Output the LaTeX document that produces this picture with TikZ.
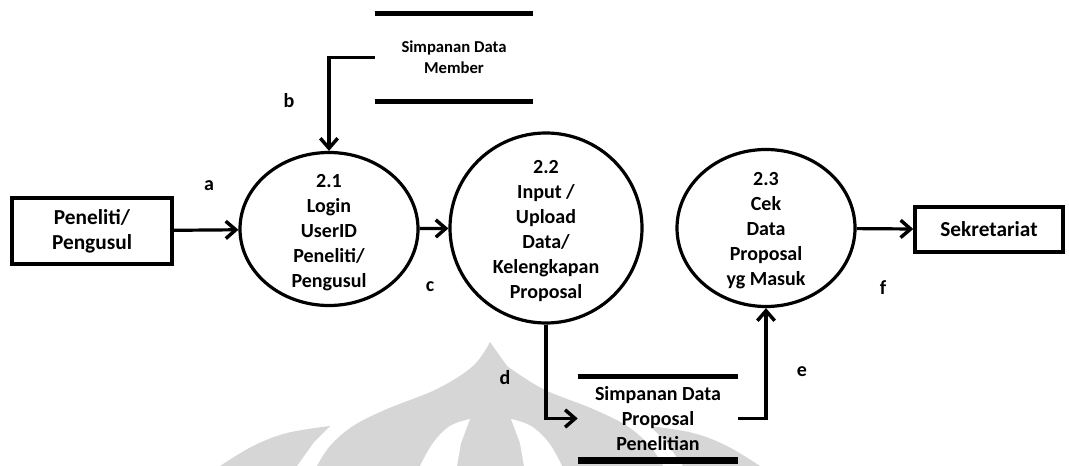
\documentclass[tikz,border=0pt]{standalone}
\usepackage{fontspec}
\setmainfont{Carlito}
\usetikzlibrary{arrows.meta,shapes.geometric}

\begin{document}
\begin{tikzpicture}[x=0.75pt,y=-0.75pt,
  txt/.style={font=\bfseries\fontsize{15}{18.75}\selectfont, align=center, inner sep=0pt},
  boxtxt/.style={font=\bfseries\fontsize{16}{18.75}\selectfont, align=center, inner sep=0pt},
  smalltxt/.style={font=\bfseries\fontsize{12.5}{16}\selectfont, align=center, inner sep=0pt},
  proc/.style={draw, ellipse, line width=2.4pt, inner sep=0pt},
  entity/.style={draw, rectangle, line width=2.6pt, boxtxt},
  store/.style={rectangle, inner sep=0pt},
  storeline/.style={line width=3.4pt},
  storebar/.style={line width=5pt},
  flow/.style={line width=2.4pt, -{Straight Barb[length=7.5pt,width=13pt,line width=2.6pt]}},
  flowlabel/.style={font=\bfseries\fontsize{15}{18}\selectfont, inner sep=0pt},
  emblem/.style={fill=black!16, draw=none}]

% canvas
\fill[white] (0,0) rectangle (1069,466);
\useasboundingbox (0,0) rectangle (1069,466);

% faint emblem in the background: central dome
\fill[emblem] plot[smooth, tension=0.6] coordinates
  {(317,466) (330,446) (353,426) (387,409) (437,389) (473,366) (490,342)}
  -- plot[smooth, tension=0.6] coordinates
  {(507,366) (543,389) (593,409) (627,426) (650,446) (663,466)} -- cycle;
% side petals
\fill[emblem] plot[smooth, tension=0.6] coordinates
  {(220,466) (253,446) (287,433) (330,426)}
  -- plot[smooth, tension=0.6] coordinates {(314,442) (297,466)} -- cycle;
\fill[emblem] plot[smooth, tension=0.6] coordinates
  {(760,466) (727,446) (693,433) (650,426)}
  -- plot[smooth, tension=0.6] coordinates {(666,442) (683,466)} -- cycle;
% white crescents separating the inner petals
\fill[white] plot[smooth, tension=0.6] coordinates
  {(420,466) (433,443) (450,426) (470,419)}
  -- plot[smooth, tension=0.6] coordinates {(461,443) (457,466)} -- cycle;
\fill[white] plot[smooth, tension=0.6] coordinates
  {(562,466) (549,443) (531,426) (511,419)}
  -- plot[smooth, tension=0.6] coordinates {(520,443) (524,466)} -- cycle;

% external entities
\node[entity, minimum width=120pt, minimum height=49.5pt] (peneliti) at (92,231) {Peneliti/\\Pengusul};
\node[entity, minimum width=111pt, minimum height=33.75pt] (sekretariat) at (989,229.5) {Sekretariat};

% processes
\node[proc, minimum width=133.5pt, minimum height=114.75pt] (p1) at (329,229) {};
\node[txt] (p1t) at (329,233) {2.1\\Login\\UserID\\Peneliti/\\Pengusul};
\node[proc, minimum width=144pt, minimum height=142.5pt] (p2) at (546,228) {};
\node[txt] (p2t) at (546,231) {2.2\\Input /\\Upload\\Data/\\Kelengkapan\\Proposal};
\node[proc, minimum width=133.5pt, minimum height=117.75pt] (p3) at (766,228) {};
\node[txt] (p3t) at (766,231) {2.3\\Cek\\Data\\Proposal\\yg Masuk};

% data stores
\node[store, minimum width=118.5pt, minimum height=65.25pt] (dsm) at (454,57.5) {};
\node[smalltxt] (dsmt) at (454,57) {Simpanan Data\\Member};
\draw[storeline] (dsm.north west) -- (dsm.north east);
\draw[storeline] (dsm.south west) -- (dsm.south east);

\node[store, minimum width=120pt, minimum height=62.25pt] (dsp) at (658,418.5) {};
\node[txt] (dspt) at (658,419) {Simpanan Data\\Proposal\\Penelitian};
\draw[storeline] (dsp.north west) -- (dsp.north east);
\draw[storebar] (dsp.south west) -- (dsp.south east);

% data flows
\draw[flow] (peneliti) -- (p1);
\draw[flow] (dsm.west) -| (p1.north);
\draw[flow] (p1) -- (p2);
\draw[flow] (p2.south) |- (dsp.west);
\draw[flow] (dsp.east) -| (p3.south);
\draw[flow] (p3) -- (sekretariat);

% flow labels
\node[flowlabel] (la) at (209,186) {a};
\node[flowlabel] (lb) at (289,101) {b};
\node[flowlabel] (lc) at (430,287) {c};
\node[flowlabel] (ld) at (505,378) {d};
\node[flowlabel] (le) at (802,372) {e};
\node[flowlabel] (lf) at (883,288) {f};
\end{tikzpicture}
\end{document}
